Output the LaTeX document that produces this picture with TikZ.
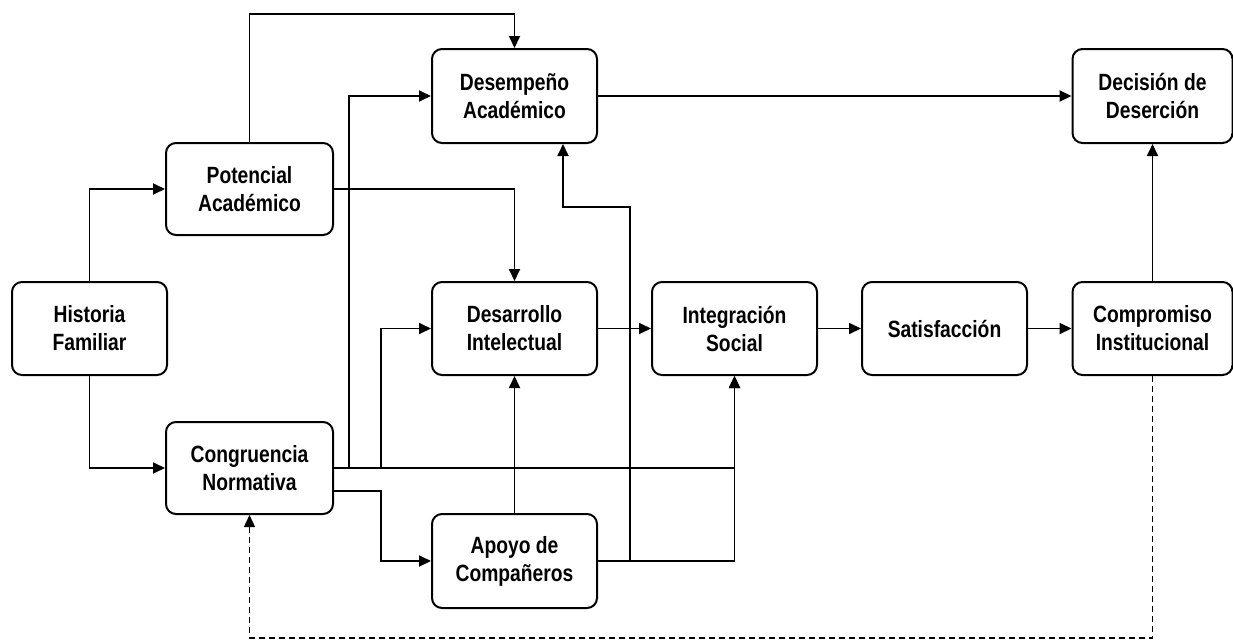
\documentclass[tikz,border=0pt]{standalone}
\usepackage{fontspec}
\newfontfamily\nodefont[FakeStretch=0.82]{Liberation Sans}
\usetikzlibrary{arrows.meta,calc}
\tikzset{
  box/.style={draw, line width=2pt, rounded corners=10pt, minimum width=165pt, minimum height=93pt,
    align=center, inner sep=0pt, fill=white,
    font=\nodefont\bfseries\fontsize{23.5}{28}\selectfont},
  arr/.style={line width=1.8pt, -{Triangle[length=12pt,width=11pt]}},
  dsh/.style={line width=1.4pt, dash pattern=on 6pt off 4pt, -{Triangle[length=12pt,width=11pt]}}
}
\begin{document}
\begin{tikzpicture}[x=1pt,y=-1pt]
\useasboundingbox (0,0) rectangle (1233,640);
\node[box, minimum width=155pt] (hist) at (89.5,328.5) {Historia\\Familiar};
\node[box, minimum width=167pt, minimum height=92pt] (pot) at (249.5,189) {Potencial\\Académico};
\node[box, minimum width=167pt, minimum height=92pt] (cong) at (249.5,468) {Congruencia\\Normativa};
\node[box, minimum height=94pt] (desem) at (514.5,96) {Desempeño\\Académico};
\node[box] (desar) at (514.5,328.5) {Desarrollo\\Intelectual};
\node[box, minimum height=94pt] (apoyo) at (514.5,561) {Apoyo de\\Compañeros};
\node[box] (integ) at (734.5,328.5) {Integración\\Social};
\node[box] (satis) at (944.5,328.5) {Satisfacción};
\node[box, minimum width=160pt] (comp) at (1152.5,328.5) {Compromiso\\Institucional};
\node[box, minimum width=160pt, minimum height=94pt] (deci) at (1152.5,96) {Decisión de\\Deserción};

\coordinate (top) at (514.5,14);
\coordinate (j1) at (349,468);
\coordinate (j2) at (381,468);
\coordinate (j4) at (630,561);
\coordinate (k) at (563,207);
\coordinate (bot) at (0,638);

\draw[arr] (hist.north) |- (pot.west);
\draw[arr] (hist.south) |- (cong.west);
\draw[arr] (pot.north) -- (pot.north |- top) -- (top) -- (desem.north);
\draw[arr] (pot.east) -| (desar.north);
\draw[arr] (cong.east) -| (integ.south);
\draw[arr] (j1) |- (desem.west);
\draw[arr] (j2) |- (desar.west);
\draw[arr] ([yshift=-23pt]cong.east) -| (j2 |- apoyo.west) -- (apoyo.west);
\draw[arr] (apoyo.north) -- (desar.south);
\draw[arr] (apoyo.east) -| (integ.south);
\draw[arr] (j4) |- (k) -- (k |- desem.south);
\draw[arr] (desar.east) -- (integ.west);
\draw[arr] (integ.east) -- (satis.west);
\draw[arr] (satis.east) -- (comp.west);
\draw[arr] (comp.north) -- (deci.south);
\draw[arr] (desem.east) -- (deci.west);
\draw[dsh] (comp.south) -- (comp.south |- bot) -| (cong.south);
\end{tikzpicture}
\end{document}
